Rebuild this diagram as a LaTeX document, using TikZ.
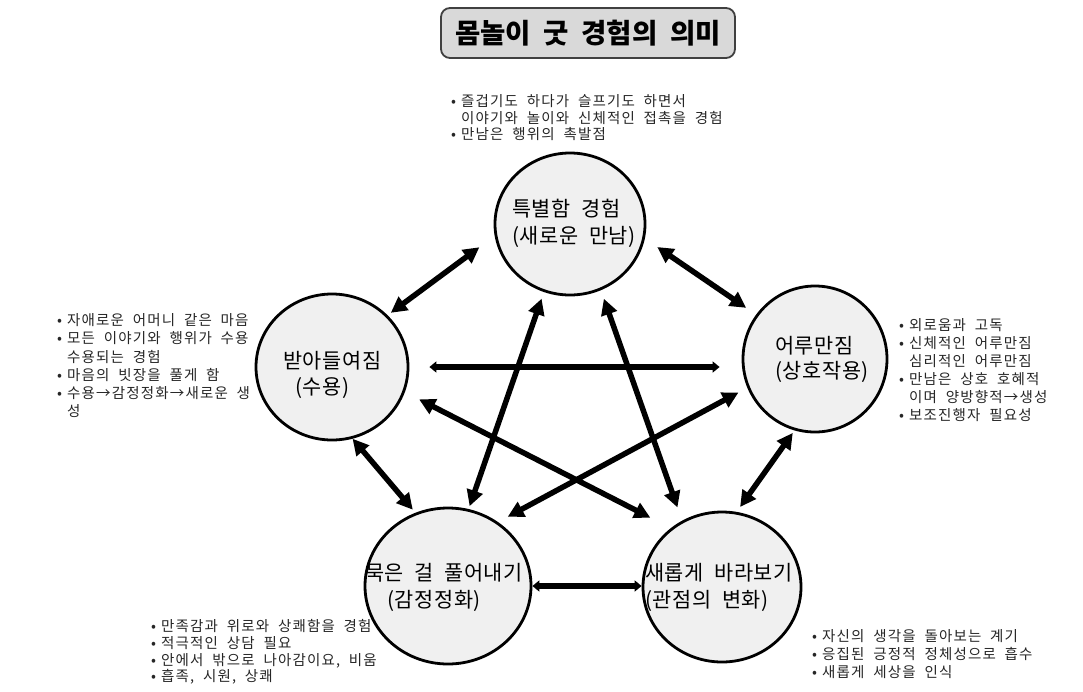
\documentclass[tikz,border=0pt]{standalone}
\usepackage{fontspec}
\setmainfont{Noto Sans CJK KR}[WordSpace=2, LetterSpace=8]
\newfontfamily\titlefont{Noto Sans CJK KR}[WordSpace=2]
\newfontfamily\cfont{Noto Sans CJK KR}[WordSpace=2, LetterSpace=3]
\usetikzlibrary{arrows.meta,shapes.geometric}
\newcommand\bu{\makebox[10pt][l]{•}}
\newcommand\ind{\hspace*{10pt}}
\begin{document}
\begin{tikzpicture}[x=1pt,y=-1pt,
  circ/.style={ellipse, draw=black, line width=2.8pt, fill=black!6, inner sep=0pt},
  ctext/.style={anchor=west, align=left, inner sep=0pt},
  blist/.style={anchor=west, align=left, inner sep=0pt, text=black!85},
  dbl/.style={line width=5.5pt, {Triangle[length=16pt,width=16pt]}-{Triangle[length=16pt,width=16pt]}},
  hdbl/.style={line width=6pt, {Triangle[length=7pt,width=11pt]}-{Triangle[length=7pt,width=11pt]}},
]
\useasboundingbox (0,0) rectangle (1083,691);
\fill[white] (0,0) rectangle (1083,691);

% title
\node[draw=black!75, fill=black!15, line width=1.8pt, rounded corners=9pt,
  minimum width=294pt, minimum height=50pt, inner sep=0pt,
  font=\titlefont\bfseries\fontsize{27.5}{30}\selectfont] (title) at (588,33) {몸놀이 굿 경험의 의미};

% circles
\node[circ, minimum width=150pt, minimum height=142pt] (T) at (570,224) {};
\node[circ, minimum width=152pt, minimum height=146pt] (L) at (332,367) {};
\node[circ, minimum width=144pt, minimum height=146pt] (R) at (815,359) {};
\node[circ, minimum width=166pt, minimum height=156pt] (BL) at (448,586) {};
\node[circ, minimum width=158pt, minimum height=150pt] (BR) at (722,587) {};

% arrows
\draw[dbl, shorten <=19pt, shorten >=4pt] (T.189) -- (L.43);
\draw[dbl, shorten <=15pt, shorten >=12pt] (T.349) -- (R.143);
\draw[hdbl, shorten <=20pt, shorten >=22pt] (L.0) -- (L.0 -| R.west);
\draw[dbl, shorten <=7pt, shorten >=3pt] (T.249) -- (BL.75);
\draw[dbl, shorten <=9pt, shorten >=14pt] (T.295) -- (BR.121);
\draw[dbl, shorten <=16pt, shorten >=23pt] (L.341) -- (BR.131);
\draw[dbl, shorten <=10pt, shorten >=11pt] (R.203) -- (BL.52);
\draw[dbl, shorten <=0pt, shorten >=4pt] (L.286) -- (BL.114);
\draw[dbl, shorten <=3pt, shorten >=6pt] (R.254) -- (BR.79);
\draw[hdbl] (BL.0) -- (BL.0 -| BR.west);

% circle texts
\node[ctext, font=\cfont\fontsize{20.8}{27}\selectfont] (tt) at (512,223.5) {특별함 경험\\(새로운 만남)};
\node[ctext, font=\cfont\fontsize{20.8}{26}\selectfont] (lt) at (283,375) {받아들여짐\\\hspace*{12pt}(수용)};
\node[ctext, font=\cfont\fontsize{20.8}{25}\selectfont] (rt) at (775,359.5) {어루만짐\\(상호작용)};
\node[ctext, font=\cfont\fontsize{20.8}{27}\selectfont] (blt) at (365,587.5) {묵은 걸 풀어내기\\\hspace*{22pt}(감정정화)};
\node[ctext, font=\cfont\fontsize{20.8}{27}\selectfont] (brt) at (645,587.5) {새롭게 바라보기\\(관점의 변화)};

% bullet lists
\node[blist, font=\fontsize{14.5}{16.7}\selectfont] (tl) at (451,117.7)
  {\bu 즐겁기도 하다가 슬프기도 하면서\\\ind 이야기와 놀이와 신체적인 접촉을 경험\\\bu 만남은 행위의 촉발점};
\node[blist, font=\fontsize{14.5}{18.2}\selectfont] (ll) at (57,365.7)
  {\bu 자애로운 어머니 같은 마음\\\bu 모든 이야기와 행위가 수용\\\ind 수용되는 경험\\\bu 마음의 빗장을 풀게 함\\\bu 수용→감정정화→새로운 생\\\ind 성};
\node[blist, font=\fontsize{14.5}{18}\selectfont] (rl) at (899,369.7)
  {\bu 외로움과 고독\\\bu 신체적인 어루만짐\\\ind 심리적인 어루만짐\\\bu 만남은 상호 호혜적\\\ind 이며 양방향적→생성\\\bu 보조진행자 필요성};
\node[blist, font=\fontsize{14.5}{16.7}\selectfont] (bll) at (151,652)
  {\bu 만족감과 위로와 상쾌함을 경험\\\bu 적극적인 상담 필요\\\bu 안에서 밖으로 나아감이요, 비움\\\bu 흡족, 시원, 상쾌};
\node[blist, font=\fontsize{14.5}{18}\selectfont] (brl) at (812,654)
  {\bu 자신의 생각을 돌아보는 계기\\\bu 응집된 긍정적 정체성으로 흡수\\\bu 새롭게 세상을 인식};
\end{tikzpicture}
\end{document}
